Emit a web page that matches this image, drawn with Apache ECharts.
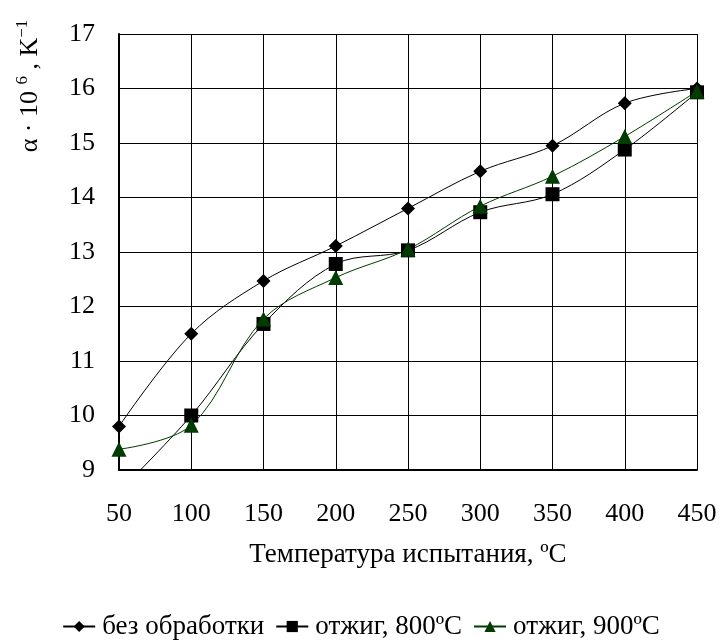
<!DOCTYPE html>
<html>
<head>
<meta charset="utf-8">
<script src="https://cdn.jsdelivr.net/npm/echarts@6/dist/echarts.min.js"></script>
<style>
  html, body { margin: 0; padding: 0; background: #fff; }
  #chart { width: 722px; height: 644px; }
</style>
</head>
<body>
<div id="chart"></div>
<script>
// Test temperatures, °C
const temperatures = [50, 100, 150, 200, 250, 300, 350, 400, 450];
// Thermal expansion coefficient α·10^6, K^-1
const untreated = [9.8, 11.5, 12.47, 13.11, 13.8, 14.48, 14.95, 15.73, 16.0];
const annealed800 = [8.6, 10.0, 11.68, 12.78, 13.03, 13.73, 14.06, 14.88, 15.93];
const annealed900 = [9.38, 9.82, 11.77, 12.53, 13.05, 13.84, 14.39, 15.12, 15.95];
const seriesNames = ['без обработки', 'отжиг, 800ºС', 'отжиг, 900ºС'];

const FONT = '"Liberation Serif", "Times New Roman", serif';
const green = '#003b00';

const pairs = arr => temperatures.map((t, i) => [t, arr[i]]);

const chart = echarts.init(document.getElementById('chart'), null, { renderer: 'canvas' });
chart.setOption({
  backgroundColor: '#ffffff',
  animation: false,
  grid: { left: 119, right: 25, top: 34, bottom: 174, containLabel: false },
  xAxis: {
    type: 'value',
    min: 50, max: 450, interval: 50,
    name: 'Температура испытания, ºС',
    nameLocation: 'middle',
    nameGap: 71,
    nameTextStyle: { fontFamily: FONT, fontSize: 27, color: '#000' },
    axisLine: { lineStyle: { color: '#000', width: 2 } },
    axisTick: { show: false },
    axisLabel: { fontFamily: FONT, fontSize: 26, color: '#000', margin: 31 },
    splitLine: { show: true, lineStyle: { color: '#000', width: 1 } }
  },
  yAxis: {
    type: 'value',
    min: 9, max: 17, interval: 1,
    axisLine: { show: true, lineStyle: { color: '#000', width: 2 } },
    axisTick: { show: false },
    axisLabel: { fontFamily: FONT, fontSize: 26, color: '#000', margin: 24 },
    splitLine: { show: true, lineStyle: { color: '#000', width: 1 } }
  },
  legend: {
    top: 613,
    left: 'center',
    padding: 0,
    itemGap: 11,
    itemWidth: 32,
    itemHeight: 14,
    textStyle: { fontFamily: FONT, fontSize: 27, color: '#000', padding: [0, 0, 0, 2] },
    data: seriesNames
  },
  graphic: [{
    type: 'text',
    x: 30, y: 86,
    rotation: Math.PI / 2,
    style: {
      text: 'α · 10 {sup|6} , K{sup|−1}',
      fontFamily: FONT, fontSize: 26, fill: '#000',
      align: 'center', verticalAlign: 'middle',
      rich: {
        sup: { fontFamily: FONT, fontSize: 17, fill: '#000', verticalAlign: 'top', padding: [0, 0, 14, 0] }
      }
    }
  }],
  series: [
    {
      name: seriesNames[0], type: 'line', smooth: 0.35,
      data: pairs(untreated),
      symbol: 'diamond', symbolSize: 14,
      lineStyle: { color: '#000', width: 1 },
      itemStyle: { color: '#000' }
    },
    {
      name: seriesNames[1], type: 'line', smooth: 0.35,
      data: pairs(annealed800),
      symbol: 'rect', symbolSize: 14,
      lineStyle: { color: '#000', width: 1 },
      itemStyle: { color: '#000' }
    },
    {
      name: seriesNames[2], type: 'line', smooth: 0.35,
      data: pairs(annealed900),
      symbol: 'triangle', symbolSize: 15,
      lineStyle: { color: green, width: 1 },
      itemStyle: { color: green }
    }
  ]
});
</script>
</body>
</html>
